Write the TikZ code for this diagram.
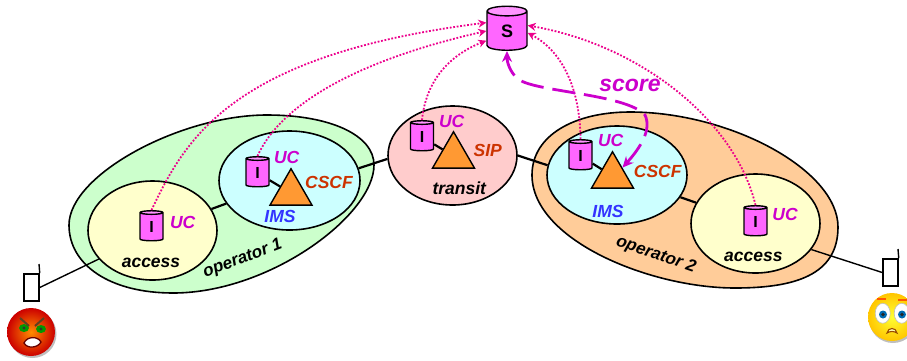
\documentclass[tikz,border=0pt]{standalone}
\usepackage{fontspec}
\setmainfont{Liberation Sans}
\usetikzlibrary{shapes.geometric,arrows.meta}
\definecolor{opgreen}{HTML}{CCFFCC}
\definecolor{oporange}{HTML}{FFCC99}
\definecolor{accyellow}{HTML}{FFFFCC}
\definecolor{imscyan}{HTML}{CCFFFF}
\definecolor{transpink}{HTML}{FFCCCC}
\definecolor{triorange}{HTML}{FF9933}
\definecolor{cylpink}{HTML}{FF66FF}
\definecolor{ucpurple}{HTML}{CC00CC}
\definecolor{cscfred}{HTML}{CC3300}
\definecolor{imsblue}{HTML}{3333FF}
\tikzset{
  blob/.style={draw=black,line width=1.6pt,ellipse,inner sep=0pt,minimum width=#1},
  oval/.style={draw=black,line width=1.6pt},
  db/.style={draw=black,line width=1.4pt,cylinder,shape border rotate=90,aspect=0.8,
    cylinder uses custom fill,cylinder body fill=cylpink,cylinder end fill=cylpink!70,
    inner sep=0pt,font=\fontsize{16}{16}\selectfont\bfseries},
  tri/.style={draw=black,line width=1.4pt,fill=triorange,regular polygon,regular polygon sides=3,
    minimum size=48.5pt,inner sep=0pt},
  lab/.style={font=\fontsize{17.5}{18}\selectfont\bfseries\itshape,inner sep=0pt},
  link/.style={line width=2.2pt},
  wire/.style={line width=1.4pt},
  handset/.style={draw=black,line width=1.5pt,fill=white,minimum width=15pt,minimum height=27pt,inner sep=0pt},
  report/.style={dash pattern=on 1.8pt off 1.7pt,draw=magenta,line width=1.8pt,-{Stealth[length=8pt,width=8pt]}},
}
\begin{document}
\begin{tikzpicture}[x=1pt,y=-1pt]
\useasboundingbox (0,0) rectangle (907,360);
% operators
\draw[oval,fill=opgreen] (69,225) .. controls (69,175) and (180,115) .. (267,115) .. controls (330,115) and (374,135) .. (374,165)
  .. controls (374,215) and (270,293) .. (173,293) .. controls (110,293) and (69,265) .. (69,225) -- cycle;
\draw[oval,fill=oporange] (532,175) .. controls (532,135) and (575,112) .. (630,112) .. controls (730,112) and (838,170) .. (838,227)
  .. controls (838,275) and (795,288) .. (735,288) .. controls (650,288) and (532,240) .. (532,175) -- cycle;
% domains
\node[blob=129pt,minimum height=99pt,fill=accyellow] (accone) at (152.5,230.5) {};
\node[blob=141pt,minimum height=99pt,fill=imscyan] (imsone) at (289.5,180.5) {};
\node[blob=129pt,minimum height=99pt,fill=transpink] (transit) at (452.5,155.5) {};
\node[blob=140pt,minimum height=98pt,fill=imscyan] (imstwo) at (617,175) {};
\node[blob=129pt,minimum height=99pt,fill=accyellow] (acctwo) at (755.5,223.5) {};
% links
\draw[link] (accone) -- (imsone);
\draw[link] (imsone.10) -- (transit.183);
\draw[link] (transit.0) -- (imstwo.172);
\draw[link] (imstwo) -- (acctwo);
% stores
\node[db,minimum width=23pt,minimum height=30pt] (dbacc) at (151.5,227) {I};
\node[db,minimum width=23pt,minimum height=30pt] (dbone) at (257.5,173) {I};
\node[db,minimum width=23pt,minimum height=30pt] (dbtrans) at (422,137) {I};
\node[db,minimum width=23pt,minimum height=30pt] (dbtwo) at (580.5,156) {I};
\node[db,minimum width=23pt,minimum height=30pt] (dbaccb) at (755.5,222) {I};
\node[db,minimum width=40pt,minimum height=44pt,font=\fontsize{18}{18}\selectfont\bfseries] (store) at (507,31) {S};
% triangles
\node[tri] (cscfone) at (291,193) {};
\node[tri] (sip) at (453.5,156) {};
\node[tri] (cscftwo) at (612.5,176) {};
\draw[link] (dbone) -- (cscfone);
\draw[link] (dbtrans) -- (sip);
\draw[link] (dbtwo) -- (cscftwo);
% labels
\node[lab,ucpurple] (ucacc) at (182.7,222.7) {UC};
\node[lab] (accesslab) at (151,263) {access};
\node[lab,rotate=21,font=\fontsize{17}{18}\selectfont\bfseries\itshape] (oponelab) at (242.7,259) {operator 1};
\node[lab,ucpurple] (ucone) at (286.7,157) {UC};
\node[lab,cscfred] (cscflab) at (329,182) {CSCF};
\node[lab,imsblue] (imslab) at (280,216.7) {IMS};
\node[lab,ucpurple] (uctrans) at (451.7,121.7) {UC};
\node[lab,cscfred] (siplab) at (487.7,150.7) {SIP};
\node[lab] (translab) at (459.3,188.3) {transit};
\node[lab,ucpurple] (uctwo) at (610.7,140) {UC};
\node[lab,cscfred] (cscflabb) at (657.7,171.7) {CSCF};
\node[lab,imsblue] (imslabb) at (608,211.7) {IMS};
\node[lab,ucpurple] (ucaccb) at (785,214.3) {UC};
\node[lab] (accesslabb) at (753.3,256.7) {access};
\node[lab,rotate=-19,font=\fontsize{17}{18}\selectfont\bfseries\itshape] (optwolab) at (656,255) {operator 2};
% phones
\node[handset] (phoneone) at (31.5,287.5) {};
\node[handset] (phonetwo) at (890.5,272.5) {};
\coordinate (antone) at (39,264);
\coordinate (anttwo) at (898,249);
\draw[wire] (phoneone.north east) -- (antone);
\draw[wire] (phonetwo.north east) -- (anttwo);
\draw[wire] (phoneone.east) -- (accone.208);
\draw[wire] (phonetwo.west) -- (acctwo.335);
% reports
\draw[report] (dbacc.north) .. controls (185,140) and (230,55) .. (store.158);
\draw[report] (dbone.north) .. controls (285,95) and (380,55) .. (store.180);
\draw[report] (dbtrans.north) .. controls (426,80) and (450,55) .. (store.205);
\draw[report] (dbtwo.north) .. controls (580,85) and (560,50) .. (store.-5);
\draw[report] (dbaccb.north) .. controls (735,120) and (640,45) .. (store.15);
% score
\draw[ucpurple,line width=2.8pt,dash pattern=on 23pt off 9pt,{Stealth[length=11pt,width=10pt]}-{Stealth[length=11pt,width=10pt]}]
  (cscftwo.40) .. controls (640,148) and (652,130) .. (645,115)
  .. controls (625,93) and (530,92) .. (517,78) .. controls (510,72) and (507,62) .. (store.south);
\node[lab,ucpurple,font=\fontsize{23}{24}\selectfont\bfseries\itshape] (scorelab) at (630,85) {score};
% angry face
\fill[black!25] (32.5,334) circle (24);
\shade[inner color=orange!90!yellow,outer color=red!80!black] (31,332) circle (24);
\fill[green!60!black] (24,328) ellipse (5 and 4) (41,329) ellipse (5 and 4);
\fill[black!80] (24,328) circle (1.6) (41,329) circle (1.6);
\draw[brown!50!black,line width=2pt] (20,318) -- (29,326) (44,318) -- (35,326);
\draw[red!40!black,line width=1.3pt,fill=white] (24,343) .. controls (27,336) and (38,336) .. (41,342) .. controls (38,348) and (27,349) .. (24,343) -- cycle;
% scared face
\begin{scope}
\clip (860,285) rectangle (907,350);
\fill[black!25] (893,319) circle (24);
\shade[inner color=yellow!80!white,outer color=orange!45!yellow] (892,317) circle (24);
\fill[white] (882.7,313.3) ellipse (7.5 and 10) (901.7,313.3) ellipse (7.5 and 10);
\draw[black!25,line width=0.6pt] (882.7,313.3) ellipse (7.5 and 10) (901.7,313.3) ellipse (7.5 and 10);
\fill[blue!40!cyan!70!black] (883,314.5) circle (4) (902,314.5) circle (4);
\fill[black!85] (883,314.5) circle (1.8) (902,314.5) circle (1.8);
\draw[orange!70!red,line width=1.5pt] (877,299) -- (886,299) (898,300) -- (907,300);
\draw[orange!60!black,line width=1.1pt,fill=yellow!30!white] (887,333) .. controls (888,327) and (896,327) .. (897,333) .. controls (894,331) and (890,331) .. (887,333) -- cycle;
\end{scope}
\end{tikzpicture}
\end{document}
